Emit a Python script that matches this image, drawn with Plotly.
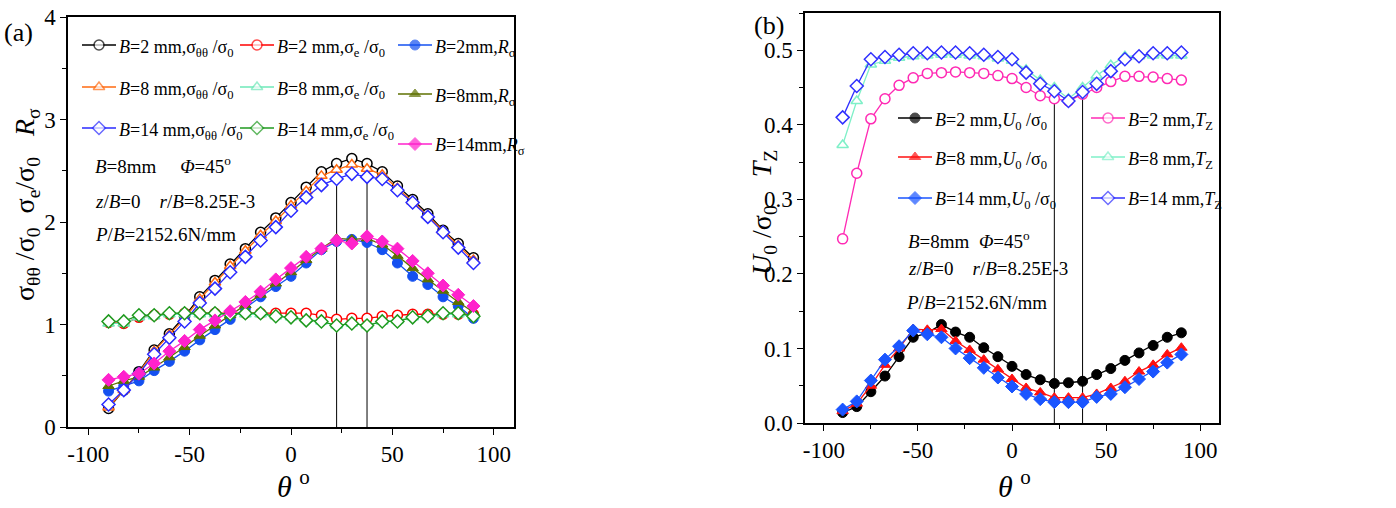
import plotly.graph_objects as go

# angle positions (degrees)
theta = [-90, -82.5, -75, -67.5, -60, -52.5, -45, -37.5, -30, -22.5, -15, -7.5, 0,
         7.5, 15, 22.5, 30, 37.5, 45, 52.5, 60, 67.5, 75, 82.5, 90]
mark_theta = [22.5, 37.5]
x_ticks = [-100, -50, 0, 50, 100]
x_ticktext = ["-100", "-50", "0", "50", "100"]

# (a) hoop stress ratio sigma_thth / sigma_0
s_tt_b2 = [0.18, 0.36, 0.54, 0.75, 0.91, 1.08, 1.27, 1.43, 1.59, 1.74, 1.90, 2.04, 2.19,
           2.34, 2.49, 2.57, 2.62, 2.57, 2.49, 2.35, 2.22, 2.08, 1.92, 1.79, 1.65]
s_tt_b8 = [0.19, 0.36, 0.53, 0.74, 0.90, 1.06, 1.25, 1.41, 1.57, 1.72, 1.87, 2.01, 2.16,
           2.30, 2.45, 2.51, 2.56, 2.52, 2.46, 2.33, 2.20, 2.06, 1.91, 1.77, 1.63]
s_tt_b14 = [0.22, 0.36, 0.52, 0.71, 0.87, 1.03, 1.21, 1.35, 1.51, 1.66, 1.82, 1.95, 2.11,
            2.24, 2.36, 2.42, 2.47, 2.44, 2.42, 2.31, 2.19, 2.05, 1.90, 1.75, 1.60]
# equivalent stress ratio sigma_e / sigma_0
s_e_b2 = [1.02, 1.01, 1.07, 1.09, 1.10, 1.11, 1.11, 1.11, 1.11, 1.11, 1.11, 1.11, 1.11,
          1.11, 1.09, 1.05, 1.06, 1.06, 1.08, 1.09, 1.10, 1.10, 1.10, 1.10, 1.10]
s_e_b8 = [1.01, 1.01, 1.07, 1.08, 1.10, 1.10, 1.10, 1.10, 1.10, 1.10, 1.10, 1.08, 1.07,
          1.05, 1.03, 0.99, 1.01, 0.99, 1.03, 1.04, 1.07, 1.08, 1.10, 1.10, 1.08]
s_e_b14 = [1.03, 1.03, 1.09, 1.09, 1.11, 1.11, 1.11, 1.11, 1.10, 1.11, 1.11, 1.08, 1.07,
           1.04, 1.03, 0.99, 1.01, 0.99, 1.03, 1.03, 1.07, 1.08, 1.11, 1.11, 1.08]
# R_sigma
r_b2 = [0.35, 0.40, 0.45, 0.55, 0.64, 0.74, 0.85, 0.95, 1.05, 1.16, 1.27, 1.37, 1.47,
        1.60, 1.73, 1.81, 1.83, 1.80, 1.73, 1.60, 1.47, 1.39, 1.27, 1.18, 1.06]
r_b8 = [0.40, 0.45, 0.49, 0.58, 0.68, 0.78, 0.89, 0.99, 1.09, 1.19, 1.29, 1.40, 1.51,
        1.63, 1.74, 1.84, 1.83, 1.84, 1.78, 1.67, 1.55, 1.44, 1.33, 1.22, 1.12]
r_b14 = [0.46, 0.49, 0.52, 0.62, 0.74, 0.84, 0.95, 1.04, 1.13, 1.22, 1.32, 1.44, 1.55,
         1.66, 1.74, 1.82, 1.79, 1.86, 1.81, 1.74, 1.62, 1.50, 1.38, 1.29, 1.18]

# (b) U0 / sigma_0
u_b2 = [0.014, 0.022, 0.042, 0.063, 0.089, 0.115, 0.121, 0.132, 0.122, 0.115, 0.101, 0.089, 0.076,
        0.065, 0.058, 0.053, 0.054, 0.056, 0.065, 0.073, 0.084, 0.094, 0.104, 0.115, 0.121]
u_b8 = [0.016, 0.026, 0.050, 0.078, 0.100, 0.126, 0.125, 0.126, 0.110, 0.098, 0.085, 0.072, 0.059,
        0.047, 0.041, 0.034, 0.034, 0.034, 0.039, 0.047, 0.056, 0.069, 0.078, 0.092, 0.101]
u_b14 = [0.018, 0.029, 0.057, 0.085, 0.103, 0.124, 0.119, 0.115, 0.100, 0.087, 0.074, 0.061, 0.049,
         0.039, 0.032, 0.028, 0.028, 0.028, 0.035, 0.039, 0.048, 0.059, 0.069, 0.081, 0.092]
# T_Z
tz_b2 = [0.247, 0.335, 0.408, 0.435, 0.453, 0.463, 0.469, 0.470, 0.471, 0.470, 0.469, 0.466, 0.462,
         0.450, 0.439, 0.435, 0.432, 0.441, 0.450, 0.458, 0.465, 0.465, 0.464, 0.462, 0.460]
tz_b8 = [0.373, 0.432, 0.481, 0.486, 0.490, 0.492, 0.493, 0.494, 0.494, 0.493, 0.492, 0.489, 0.486,
         0.474, 0.460, 0.450, 0.435, 0.450, 0.466, 0.480, 0.492, 0.492, 0.493, 0.493, 0.493]
tz_b14 = [0.410, 0.452, 0.488, 0.491, 0.494, 0.496, 0.496, 0.497, 0.497, 0.496, 0.494, 0.491, 0.488,
          0.470, 0.455, 0.445, 0.432, 0.444, 0.455, 0.472, 0.488, 0.492, 0.496, 0.496, 0.497]

FONT = "Liberation Serif"
W, H = 1396, 508


def px(x):
    return x / W


def py(y):
    return 1 - y / H


def guide_lines(series):
    xs, ys = [], []
    for t in mark_theta:
        i = theta.index(t)
        xs += [t, t, None]
        ys += [0, max(s[i] for s in series), None]
    return xs, ys


def marker_style(sym, color):
    # hollow symbols in the original have a white fill
    if sym.endswith("-open"):
        return dict(symbol=sym[:-5], size=10, color="white", line=dict(color=color, width=1.5))
    return dict(symbol=sym, size=10, color=color, line=dict(color=color, width=1))


fig = go.Figure()

# vertical guides
gx, gy = guide_lines([s_tt_b2])
fig.add_trace(go.Scatter(x=gx, y=gy, mode="lines", line=dict(color="black", width=1),
                         showlegend=False, hoverinfo="skip"))
gx, gy = guide_lines([tz_b14])
fig.add_trace(go.Scatter(x=gx, y=gy, mode="lines", line=dict(color="black", width=1),
                         showlegend=False, hoverinfo="skip", xaxis="x2", yaxis="y2"))

tt = "σ<sub>θθ</sub> /σ<sub>0</sub>"
se = "σ<sub>e</sub> /σ<sub>0</sub>"
rs = "<i>R</i><sub>σ</sub>"

# (values, label, colour, symbol, legend key x, legend key y) - key positions in px
left_series = [
    (s_tt_b2, f"<i>B</i>=2 mm,{tt}", "#000000", "circle-open", 82, 45),
    (s_e_b2, f"<i>B</i>=2 mm,{se}", "#ff0000", "circle-open", 240, 45),
    (r_b2, f"<i>B</i>=2mm,{rs}", "#1450f0", "circle", 398, 45),
    (s_tt_b8, f"<i>B</i>=8 mm,{tt}", "#ff6a10", "triangle-up-open", 82, 87),
    (s_e_b8, f"<i>B</i>=8 mm,{se}", "#6ee8b8", "triangle-up-open", 240, 87),
    (r_b8, f"<i>B</i>=8mm,{rs}", "#5e7000", "triangle-up", 398, 94),
    (s_tt_b14, f"<i>B</i>=14 mm,{tt}", "#2a2aff", "diamond-open", 82, 128),
    (s_e_b14, f"<i>B</i>=14 mm,{se}", "#1f9a1f", "diamond-open", 240, 128),
    (r_b14, f"<i>B</i>=14mm,{rs}", "#ff22cc", "diamond", 398, 144),
]

u0 = "<i>U</i><sub>0</sub> /σ<sub>0</sub>"
tzn = "<i>T</i><sub>Z</sub>"
right_series = [
    (u_b2, f"<i>B</i>=2 mm,{u0}", "#000000", "circle", 898, 118),
    (tz_b2, f"<i>B</i>=2 mm,{tzn}", "#ff2ab4", "circle-open", 1091, 118),
    (u_b8, f"<i>B</i>=8 mm,{u0}", "#ff1010", "triangle-up", 898, 157),
    (tz_b8, f"<i>B</i>=8 mm,{tzn}", "#7ff0c8", "triangle-up-open", 1091, 157),
    (u_b14, f"<i>B</i>=14 mm,{u0}", "#1a55ff", "diamond", 898, 198),
    (tz_b14, f"<i>B</i>=14 mm,{tzn}", "#3030ff", "diamond-open", 1091, 198),
]

for series, xa, ya in [(left_series, "x", "y"), (right_series, "x2", "y2")]:
    for vals, name, color, sym, kx, ky in series:
        fig.add_trace(go.Scatter(
            x=theta, y=vals, name=name, mode="lines+markers",
            line=dict(color=color, width=1.3), marker=marker_style(sym, color),
            xaxis=xa, yaxis=ya, showlegend=False,
        ))

# hand-drawn legends on a full-page pixel overlay
KEY = 34
for vals, name, color, sym, kx, ky in left_series + right_series:
    m = marker_style(sym, color)
    m["size"] = [0, 10, 0]
    fig.add_trace(go.Scatter(
        x=[kx, kx + KEY / 2, kx + KEY], y=[ky, ky, ky], mode="lines+markers",
        line=dict(color=color, width=1.3), marker=m,
        xaxis="x3", yaxis="y3", showlegend=False, hoverinfo="skip",
    ))
    fig.add_annotation(text=name, xref="paper", yref="paper", x=px(kx + KEY + 1), y=py(ky + 3),
                       xanchor="left", yanchor="middle", showarrow=False,
                       font=dict(family=FONT, size=18, color="black"))

axis_common = dict(
    showline=True, linecolor="black", linewidth=1.5, mirror=True,
    ticks="outside", ticklen=6, tickwidth=1.2, tickcolor="black",
    showgrid=False, zeroline=False, automargin=False,
    tickfont=dict(family=FONT, size=23, color="black"),
)

fig.update_layout(
    width=W, height=H,
    margin=dict(l=0, r=0, t=0, b=0, autoexpand=False),
    paper_bgcolor="white", plot_bgcolor="rgba(0,0,0,0)",
    font=dict(family=FONT, color="black"),
    showlegend=False,
    xaxis=dict(domain=[px(68), px(514)], range=[-110, 110], anchor="y",
               tickvals=x_ticks, ticktext=x_ticktext,
               minor=dict(ticks="outside", dtick=25, ticklen=4, tickcolor="black"),
               **axis_common),
    yaxis=dict(domain=[py(427), py(17)], range=[0, 4], anchor="x",
               tickvals=[0, 1, 2, 3, 4],
               minor=dict(ticks="outside", dtick=0.5, ticklen=4, tickcolor="black"),
               **axis_common),
    xaxis2=dict(domain=[px(805), px(1219)], range=[-110, 110], anchor="y2",
                tickvals=x_ticks, ticktext=x_ticktext,
                minor=dict(ticks="outside", dtick=25, ticklen=4, tickcolor="black"),
                **axis_common),
    yaxis2=dict(domain=[py(423), py(13)], range=[0, 0.55], anchor="x2",
                tickvals=[0, 0.1, 0.2, 0.3, 0.4, 0.5], tickformat=".1f",
                minor=dict(ticks="outside", dtick=0.05, ticklen=4, tickcolor="black"),
                **axis_common),
    xaxis3=dict(domain=[0, 1], range=[0, W], visible=False, fixedrange=True, anchor="y3"),
    yaxis3=dict(domain=[0, 1], range=[H, 0], visible=False, fixedrange=True, anchor="x3"),
)

ann = [
    ("(a)", 2, 32, 26, "left"),
    ("(b)", 752, 25, 26, "left"),
    ("<i>B</i>=8mm     <i>Φ</i>=45<sup>o</sup>", 93, 165, 19, "left"),
    ("<i>z</i>/<i>B</i>=0    <i>r</i>/<i>B</i>=8.25E-3", 93, 202, 19, "left"),
    ("<i>P</i>/<i>B</i>=2152.6N/mm", 93, 234, 19, "left"),
    ("<i>B</i>=8mm  <i>Φ</i>=45<sup>o</sup>", 906, 240, 19, "left"),
    ("<i>z</i>/<i>B</i>=0    <i>r</i>/<i>B</i>=8.25E-3", 906, 268, 19, "left"),
    ("<i>P</i>/<i>B</i>=2152.6N/mm", 904, 302, 19, "left"),
    ("<i>θ</i> <sup>o</sup>", 293, 484, 30, "center"),
    ("<i>θ</i> <sup>o</sup>", 1014, 484, 30, "center"),
]
for text, x, y, size, xa in ann:
    fig.add_annotation(text=text, xref="paper", yref="paper", x=px(x), y=py(y),
                       xanchor=xa, yanchor="middle", showarrow=False,
                       font=dict(family=FONT, size=size, color="black"))

fig.add_annotation(
    text="σ<sub>θθ</sub> /σ<sub>0</sub>  σ<sub>e</sub>/σ<sub>0</sub>   <i>R</i><sub>σ</sub>",
    xref="paper", yref="paper", x=px(27), y=py(205), textangle=-90,
    xanchor="center", yanchor="middle",
    showarrow=False, font=dict(family=FONT, size=28, color="black"))
fig.add_annotation(
    text="<i>U</i><sub>0</sub> /σ<sub>0</sub>    <i>T</i><sub>Z</sub>",
    xref="paper", yref="paper", x=px(764), y=py(213), textangle=-90,
    xanchor="center", yanchor="middle",
    showarrow=False, font=dict(family=FONT, size=28, color="black"))

# the page's default body margin would shift the figure by 8 px
fig.write_html("out.html", config={"displayModeBar": False},
               post_script="document.body.style.margin='0';")
